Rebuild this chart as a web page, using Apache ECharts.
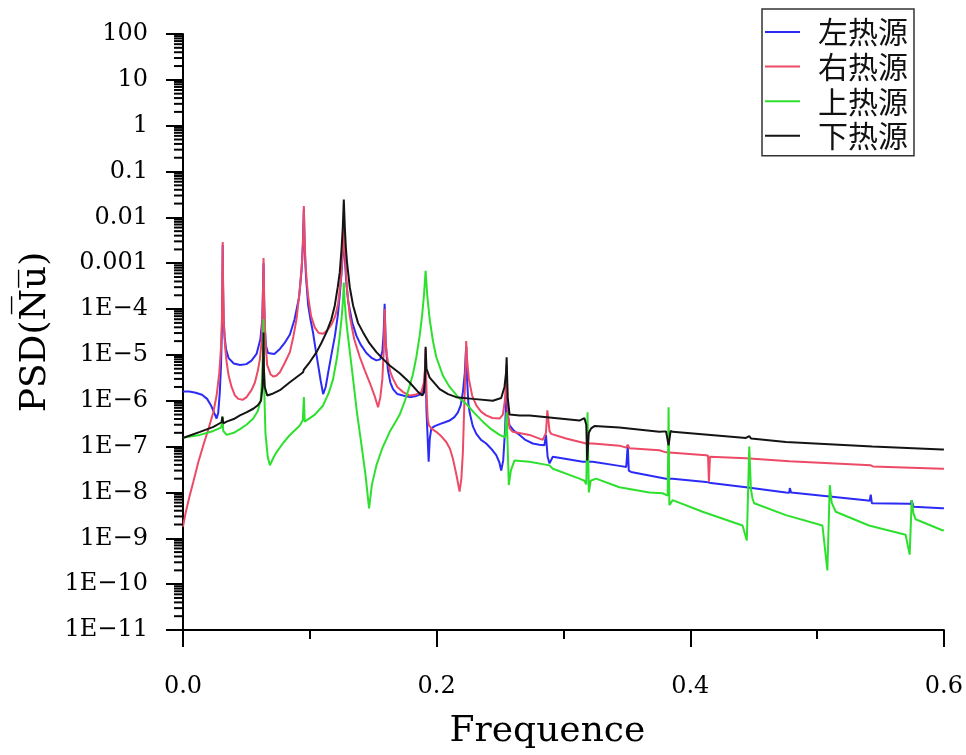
<!DOCTYPE html>
<html>
<head>
<meta charset="utf-8">
<script src="https://cdn.jsdelivr.net/npm/echarts@6/dist/echarts.min.js"></script>
<style>html,body{margin:0;padding:0;background:#fff}#c{width:966px;height:755px}</style>
</head>
<body>
<div id="c"></div>
<script>
const seriesNames = ['左热源', '右热源', '上热源', '下热源'];
const seriesColors = ['#2b2bf5', '#ec4a66', '#2ee02e', '#141414'];
const xTickLabels = ['0.0', '0.2', '0.4', '0.6'];
const yTickLabels = ['1E\u221211','1E\u221210','1E\u22129','1E\u22128','1E\u22127','1E\u22126','1E\u22125','1E\u22124','0.001','0.01','0.1','1','10','100'];

const leftSrc = [
 [0,1.6e-6],[0.005,1.6e-6],[0.010,1.5e-6],[0.015,1.35e-6],[0.019,1.1e-6],[0.022,8e-7],[0.0245,5.5e-7],[0.0265,4.1e-7],[0.0278,5.5e-7],[0.0290,1.5e-6],[0.0300,6e-6],[0.0307,4e-5],[0.0311,4e-4],[0.0313,2.5e-3],[0.0316,3e-4],[0.0320,6e-5],[0.0328,2.5e-5],[0.0339,1.35e-5],[0.036,8.5e-6],[0.040,6.5e-6],[0.045,6e-6],[0.050,6.3e-6],[0.054,7.5e-6],[0.058,1.05e-5],[0.061,2.2e-5],[0.0625,6e-5],[0.0631,3e-4],[0.0635,1.0e-3],[0.0639,2e-4],[0.0645,4e-5],[0.0654,1.6e-5],[0.067,1.1e-5],[0.0685,1.0e-5],[0.072,1.05e-5],[0.0764,1.35e-5],[0.080,1.8e-5],[0.0843,2.8e-5],[0.088,6e-5],[0.0915,1.8e-4],[0.0935,7e-4],[0.0945,2.5e-3],[0.0953,0.015],[0.0960,2e-3],[0.0970,5e-4],[0.0987,1.2e-4],[0.1005,6e-5],[0.1026,3e-5],[0.1046,1.3e-5],[0.1066,5.9e-6],[0.1085,2.8e-6],[0.1105,1.4e-6],[0.1125,2e-6],[0.1144,4e-6],[0.117,1e-5],[0.1197,2.5e-5],[0.122,7e-5],[0.1236,2e-4],[0.125,6e-4],[0.1262,2e-3],[0.1268,4e-3],[0.1275,1.5e-3],[0.1287,4e-4],[0.1302,1.5e-4],[0.1335,5e-5],[0.1368,2.6e-5],[0.140,1.7e-5],[0.1446,1.1e-5],[0.149,8.5e-6],[0.1525,7.6e-6],[0.1555,8e-6],[0.1572,1.2e-5],[0.1582,3e-5],[0.159,1.3e-4],[0.1598,2e-5],[0.1608,8e-6],[0.1617,4.5e-6],[0.1635,2.5e-6],[0.1656,1.8e-6],[0.169,1.4e-6],[0.1735,1.3e-6],[0.1787,1.2e-6],[0.183,1.25e-6],[0.1879,1.4e-6],[0.1900,2e-6],[0.1910,5e-6],[0.1913,8e-6],[0.1920,6e-7],[0.1937,4.7e-8],[0.1946,1.5e-7],[0.1958,2.5e-7],[0.1985,2.8e-7],[0.2024,3.1e-7],[0.2065,3.4e-7],[0.2102,3.7e-7],[0.214,4.4e-7],[0.2168,5.6e-7],[0.219,8e-7],[0.2207,1.55e-6],[0.2222,4e-6],[0.2230,1.1e-5],[0.2234,1.5e-5],[0.2240,3e-6],[0.2250,9e-7],[0.226,5.6e-7],[0.2285,2.8e-7],[0.2313,1.9e-7],[0.235,1.4e-7],[0.2391,1.17e-7],[0.243,9e-8],[0.247,6.5e-8],[0.2495,4.5e-8],[0.2509,3e-8],[0.2525,5e-8],[0.2540,2.5e-7],[0.2552,2e-6],[0.2560,5e-7],[0.2575,2.9e-7],[0.261,2.2e-7],[0.2654,1.8e-7],[0.270,1.4e-7],[0.2758,1.17e-7],[0.281,1.1e-7],[0.285,1.07e-7],[0.2862,1.8e-7],[0.2875,6e-8],[0.289,4.3e-8],[0.2916,6e-8],[0.300,5.5e-8],[0.3152,4.7e-8],[0.3231,4.7e-8],[0.3441,3.8e-8],[0.3495,3.6e-8],[0.3507,1.07e-7],[0.3515,3e-8],[0.3533,2.8e-8],[0.3809,2e-8],[0.3861,2e-8],[0.4124,1.7e-8],[0.4163,1.6e-8],[0.4439,1.3e-8],[0.4754,1e-8],[0.4780,9.8e-9],[0.4785,1.25e-8],[0.4795,1e-8],[0.4806,1e-8],[0.5383,6.8e-9],[0.5415,6.6e-9],[0.5423,9e-9],[0.5432,5.8e-9],[0.5436,5.7e-9],[0.5724,5.7e-9],[0.5740,5.6e-9],[0.5746,6.8e-9],[0.5760,4.9e-9],[0.5987,4.5e-9],[0.6,4.5e-9]
];
const rightSrc = [
 [0,1.8e-9],[0.002,3.5e-9],[0.005,8e-9],[0.0081,1.7e-8],[0.012,4.5e-8],[0.016,1.07e-7],[0.020,2.4e-7],[0.0239,5.6e-7],[0.0265,1.3e-6],[0.0286,4e-6],[0.0300,1.5e-5],[0.0307,6e-5],[0.0311,5e-4],[0.0313,2.9e-3],[0.0316,4e-4],[0.0322,5e-5],[0.0332,1.5e-5],[0.0344,7e-6],[0.036,3.5e-6],[0.0383,2e-6],[0.041,1.3e-6],[0.0436,1.1e-6],[0.047,1.05e-6],[0.0501,1.2e-6],[0.054,1.7e-6],[0.0567,2.5e-6],[0.059,4.5e-6],[0.0606,8e-6],[0.0620,2e-5],[0.0629,1.2e-4],[0.0635,1.3e-3],[0.0641,1.2e-4],[0.0650,2e-5],[0.0664,6e-6],[0.069,3.8e-6],[0.0711,3.4e-6],[0.0735,3.5e-6],[0.0764,4.2e-6],[0.080,6.5e-6],[0.0843,1.15e-5],[0.087,2.5e-5],[0.0895,6e-5],[0.0920,2.5e-4],[0.0940,1.2e-3],[0.0948,4e-3],[0.0953,0.0177],[0.0958,4e-3],[0.0966,1e-3],[0.0976,4e-4],[0.0987,1.9e-4],[0.1010,7e-5],[0.1039,4e-5],[0.107,3e-5],[0.1105,2.9e-5],[0.1140,3.5e-5],[0.1171,4.6e-5],[0.120,7e-5],[0.1223,1.3e-4],[0.1243,4e-4],[0.1258,1.5e-3],[0.1268,6e-3],[0.1278,1.5e-3],[0.1292,3e-4],[0.1315,7e-5],[0.135,2.2e-5],[0.1394,9e-6],[0.1435,4.5e-6],[0.1472,2.5e-6],[0.151,1.3e-6],[0.1538,7.2e-7],[0.1556,1.2e-6],[0.1572,3e-6],[0.1584,1.5e-5],[0.159,1e-4],[0.1597,2e-5],[0.1607,1e-5],[0.1617,7e-6],[0.1635,4.2e-6],[0.1656,3e-6],[0.169,2e-6],[0.1735,1.55e-6],[0.1787,1.3e-6],[0.1830,1.35e-6],[0.1879,1.55e-6],[0.1900,2.5e-6],[0.1908,5e-6],[0.1913,1.35e-5],[0.1920,1.5e-6],[0.1930,4e-7],[0.1939,2.9e-7],[0.1965,2.4e-7],[0.1997,2.1e-7],[0.2035,1.7e-7],[0.2076,1.26e-7],[0.2105,9e-8],[0.2128,5.5e-8],[0.2155,2.5e-8],[0.2181,1.05e-8],[0.2195,2e-8],[0.2207,7.6e-8],[0.2218,8e-7],[0.2228,5e-6],[0.2233,2e-5],[0.2240,8e-6],[0.2254,3e-6],[0.2280,1.3e-6],[0.2313,7.9e-7],[0.235,5.8e-7],[0.2391,4.8e-7],[0.2440,4.2e-7],[0.2496,4.1e-7],[0.2522,5e-7],[0.2538,1e-6],[0.2548,3e-6],[0.2552,6e-6],[0.2560,6e-7],[0.2575,2.5e-7],[0.26,2.1e-7],[0.2732,1.8e-7],[0.2837,1.4e-7],[0.2862,2e-7],[0.2873,6.2e-7],[0.2890,2.2e-7],[0.2903,1.9e-7],[0.3021,1.5e-7],[0.3179,1.17e-7],[0.3231,1.17e-7],[0.3441,1.05e-7],[0.3494,9.5e-8],[0.3507,1.1e-7],[0.352,9.2e-8],[0.3756,8.3e-8],[0.3809,7.5e-8],[0.4124,6.5e-8],[0.414,6.3e-8],[0.4147,1.7e-8],[0.4155,6e-8],[0.4163,6e-8],[0.4439,5.6e-8],[0.4780,4.8e-8],[0.4785,5.3e-8],[0.4795,4.6e-8],[0.5423,3.9e-8],[0.5430,4.2e-8],[0.5440,3.7e-8],[0.5987,3.3e-8],[0.6,3.3e-8]
];
const topSrc = [
 [0,1.55e-7],[0.0016,1.6e-7],[0.0134,1.8e-7],[0.024,2.2e-7],[0.0300,2.6e-7],[0.0310,3.5e-7],[0.0313,4.5e-7],[0.0317,2.2e-7],[0.0344,1.8e-7],[0.040,2e-7],[0.0449,2.4e-7],[0.050,3e-7],[0.0554,4.1e-7],[0.0590,6e-7],[0.0612,1e-6],[0.0624,3e-6],[0.0631,1.5e-5],[0.0635,6e-5],[0.0640,2e-6],[0.0650,2e-7],[0.0668,6e-8],[0.0685,3.9e-8],[0.071,5.5e-8],[0.0738,7.6e-8],[0.079,1.2e-7],[0.0843,1.8e-7],[0.0921,2.9e-7],[0.0945,3.8e-7],[0.0953,1.2e-6],[0.0960,3.5e-7],[0.0974,3.5e-7],[0.104,5e-7],[0.1105,7.9e-7],[0.1150,1.5e-6],[0.1184,3e-6],[0.1215,9e-6],[0.1236,2.6e-5],[0.1252,7e-5],[0.1262,1.6e-4],[0.1268,3.8e-4],[0.1274,1.6e-4],[0.1284,7e-5],[0.1294,3.7e-5],[0.1315,1.2e-5],[0.1341,3e-6],[0.137,6e-7],[0.1407,1.1e-7],[0.1440,2.3e-8],[0.1467,4.5e-9],[0.1490,1.5e-8],[0.1525,3.9e-8],[0.157,9e-8],[0.163,2.1e-7],[0.1680,3.6e-7],[0.1709,5e-7],[0.1750,1e-6],[0.1787,2.1e-6],[0.1813,3.8e-6],[0.1840,9e-6],[0.1866,2.6e-5],[0.1885,7e-5],[0.1900,2e-4],[0.1913,6.8e-4],[0.1926,2e-4],[0.1945,6e-5],[0.1971,2e-5],[0.1997,9e-6],[0.2050,3.5e-6],[0.2102,2e-6],[0.2170,1.2e-6],[0.2234,8.5e-7],[0.2300,5.3e-7],[0.2364,3.5e-7],[0.2430,2.4e-7],[0.2496,1.8e-7],[0.2540,1.6e-7],[0.2552,5.6e-7],[0.2560,1e-7],[0.2569,1.45e-8],[0.2585,3e-8],[0.2614,5e-8],[0.2732,4.7e-8],[0.289,3.9e-8],[0.2916,3.3e-8],[0.3126,2e-8],[0.3165,1.8e-8],[0.318,1.5e-8],[0.3190,5.6e-7],[0.3200,1e-8],[0.3215,1.8e-8],[0.3257,2e-8],[0.3441,1.3e-8],[0.3677,1e-8],[0.3782,9.6e-9],[0.3822,8.5e-9],[0.3829,7.2e-7],[0.3835,5.3e-9],[0.3861,6.8e-9],[0.4097,3.8e-9],[0.4412,1.9e-9],[0.4446,9e-10],[0.4465,1e-7],[0.4478,1.2e-8],[0.4491,7.3e-9],[0.4504,5.8e-9],[0.4754,3.2e-9],[0.5042,1.9e-9],[0.5081,2e-10],[0.51,1.45e-8],[0.5115,6e-9],[0.5147,3.8e-9],[0.5409,1.9e-9],[0.5698,1.2e-9],[0.573,4.4e-10],[0.5746,6.8e-9],[0.5760,3.5e-9],[0.5777,2.6e-9],[0.5987,1.5e-9],[0.6,1.5e-9]
];
const bottomSrc = [
 [0,1.55e-7],[0.0016,1.6e-7],[0.0134,2.1e-7],[0.024,2.7e-7],[0.0304,3.4e-7],[0.0310,4.5e-7],[0.0313,4.8e-7],[0.0318,3.2e-7],[0.0344,3.5e-7],[0.040,4e-7],[0.0449,4.8e-7],[0.050,5.6e-7],[0.0554,6.7e-7],[0.0590,8e-7],[0.0615,1e-6],[0.0627,2e-6],[0.0632,8e-6],[0.0635,3.1e-5],[0.0638,5e-6],[0.0645,2e-6],[0.0664,1.3e-6],[0.070,1.4e-6],[0.0764,1.7e-6],[0.0840,2.5e-6],[0.0921,3.7e-6],[0.0947,4.2e-6],[0.0953,4.8e-6],[0.0960,4.4e-6],[0.1000,7e-6],[0.1053,1.15e-5],[0.109,1.8e-5],[0.1131,3.1e-5],[0.117,6e-5],[0.1197,1.2e-4],[0.1220,3e-4],[0.1236,6.3e-4],[0.1250,2e-3],[0.1260,6e-3],[0.1268,0.0245],[0.1276,6e-3],[0.1285,2e-3],[0.1294,1e-3],[0.1315,3e-4],[0.1341,1.2e-4],[0.138,5e-5],[0.142,3.1e-5],[0.147,1.8e-5],[0.1525,1.15e-5],[0.158,8e-6],[0.163,5.9e-6],[0.1709,4e-6],[0.1787,2.5e-6],[0.1850,1.6e-6],[0.1887,1.3e-6],[0.1900,1.5e-6],[0.1908,3e-6],[0.1913,1.5e-5],[0.1920,5e-6],[0.1945,3.2e-6],[0.2024,1.8e-6],[0.2090,1.4e-6],[0.2155,1.2e-6],[0.2286,1.1e-6],[0.2443,1.0e-6],[0.2509,1.15e-6],[0.2535,2e-6],[0.2547,4e-6],[0.2552,8.9e-6],[0.2560,1.2e-6],[0.2575,5e-7],[0.2654,4.8e-7],[0.2732,4.8e-7],[0.3126,3.7e-7],[0.3165,4.2e-7],[0.318,3e-7],[0.3187,5e-8],[0.3200,2e-7],[0.3218,2.5e-7],[0.3244,2.8e-7],[0.3441,2.6e-7],[0.3756,2.1e-7],[0.3809,2.15e-7],[0.3829,1.07e-7],[0.3845,2.2e-7],[0.3861,2.1e-7],[0.4439,1.55e-7],[0.4465,1.7e-7],[0.4480,1.5e-7],[0.4754,1.26e-7],[0.5436,1e-7],[0.5987,8.7e-8],[0.6,8.7e-8]
];
const seriesData = [leftSrc, rightSrc, topSrc, bottomSrc];

// minor tick positions for the log axis (2..9 x 10^k)
const minorTickVals = [];
for (let e = -11; e < 2; e++) for (let m = 2; m <= 9; m++) minorTickVals.push([0, m * Math.pow(10, e)]);

const serif = 'DejaVu Serif';
const chart = echarts.init(document.getElementById('c'), null, {renderer: 'canvas'});
const allSeries = seriesNames.map((n, i) => ({
  name: n, type: 'line', data: seriesData[i], showSymbol: false, symbol: 'none',
  lineStyle: {width: 2, color: seriesColors[i]}, itemStyle: {color: seriesColors[i]},
  emphasis: {disabled: true}, z: 3
}));
allSeries.push({
  type: 'custom', name: 'minorTicks', silent: true, clip: false, z: 10,
  data: minorTickVals,
  renderItem: function (params, api) {
    const p = api.coord([0, api.value(1)]);
    return {type: 'line', shape: {x1: p[0] - 9, y1: p[1], x2: p[0], y2: p[1]}, style: {stroke: '#000', lineWidth: 2}};
  }
});
chart.setOption({
  animation: false,
  backgroundColor: '#fff',
  grid: {left: 183, right: 21, top: 34, bottom: 123, containLabel: false},
  legend: {
    data: seriesNames.map((n, i) => ({name: n, icon: 'rect', itemStyle: {color: seriesColors[i]}})),
    orient: 'vertical', left: 762, top: 9,
    padding: [8, 6, 5, 3], itemWidth: 35, itemHeight: 2, itemGap: 4.6,
    borderColor: '#333', borderWidth: 1.5,
    textStyle: {fontFamily: 'Noto Sans CJK SC', fontSize: 30, color: '#111', lineHeight: 30, padding: [0, 0, 0, 13]}
  },
  xAxis: {
    type: 'value', min: 0, max: 0.6, interval: 0.2,
    name: 'Frequence', nameLocation: 'middle', nameGap: 84,
    nameTextStyle: {fontFamily: serif, fontSize: 36, color: '#000', padding: [0, 32, 0, 0]},
    axisLine: {show: true, onZero: false, lineStyle: {color: '#000', width: 2}},
    axisTick: {show: true, inside: false, length: 17, lineStyle: {color: '#000', width: 2}},
    minorTick: {show: true, splitNumber: 2, length: 9, lineStyle: {color: '#000', width: 2}},
    splitLine: {show: false}, minorSplitLine: {show: false},
    axisLabel: {margin: 45, fontFamily: serif, fontSize: 24, color: '#000',
      formatter: v => xTickLabels[Math.round(v / 0.2)]}
  },
  yAxis: {
    type: 'log', logBase: 10, min: 1e-11, max: 100, interval: 1, splitNumber: 13,
    name: 'PSD(N\u0305u\u0305)', nameLocation: 'middle', nameGap: 128,
    nameTextStyle: {fontFamily: serif, fontSize: 36, color: '#000'},
    axisLine: {show: true, onZero: false, lineStyle: {color: '#000', width: 2}},
    axisTick: {show: true, inside: false, length: 17, lineStyle: {color: '#000', width: 2}},
    splitLine: {show: false},
    axisLabel: {margin: 35, fontFamily: serif, fontSize: 24, color: '#000',
      formatter: v => yTickLabels[Math.round(Math.log10(v)) + 11]}
  },
  series: allSeries
});
</script>
</body>
</html>
